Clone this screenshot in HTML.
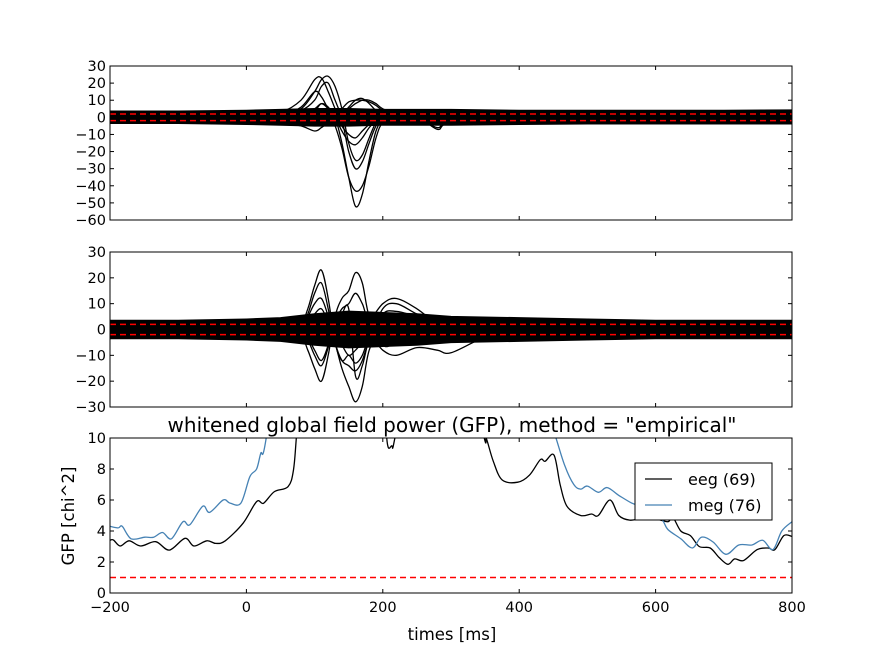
<!DOCTYPE html>
<html><head><meta charset="utf-8">
<style>
body{margin:0;background:#fff;}
svg{display:block;font-family:"DejaVu Sans","Liberation Sans",sans-serif;}
</style></head>
<body>
<svg id="chart" width="880" height="660" viewBox="0 0 880 660">
<rect width="880" height="660" fill="#fff"/>
</svg>
<script>
// ---------- data ----------
const xTicks = [-200, 0, 200, 400, 600, 800];
const topTicks = [30, 20, 10, 0, -10, -20, -30, -40, -50, -60];
const midTicks = [30, 20, 10, 0, -10, -20, -30];
const gfpTicks = [0, 2, 4, 6, 8, 10];

const bandTimes = [-200, -100, 0, 50, 100, 150, 200, 250, 300, 400, 500, 600, 700, 800];
const topBandUp = [3.5, 3.5, 4, 4.5, 5, 5, 4.5, 4.5, 4.5, 4, 4, 4, 4, 4.2];
const topBandLo = [-3.5, -3.5, -4, -4.5, -5, -5, -4.5, -4.5, -4.5, -4, -3.8, -3.8, -3.8, -3.8];
const midBandUp = [3.5, 3.5, 4, 4.5, 6, 7, 6.5, 6, 5, 4.5, 4, 3.5, 3.5, 3.5];
const midBandLo = [-3.5, -3.5, -4, -4.5, -6, -7, -6.5, -6, -5, -4.5, -4, -3.5, -3.5, -3.5];

const topTimes = [-200, -100, 0, 50, 80, 100, 110, 120, 130, 140, 150, 160, 170, 180, 190, 200, 220, 250, 280, 300, 400, 800];
const topCh1 = [0, 0, 0, 0, 1, 3, 5, 3, 0, -15, -35, -52, -45, -25, -8, -2, 0, 0, 0, 0, 0, 0];
const topCh2 = [0, 0, 0, 0, 0, 1, 2, 1, -5, -18, -35, -43, -40, -28, -12, -3, 0, 0, 0, 0, 0, 0];
const topCh3 = [0, 0, 1, 2, 5, 15, 22, 24, 18, 5, -15, -25, -22, -12, -3, 0, 0, 0, 0, 0, 0, 0];
const topCh4 = [0, 0, 1, 3, 10, 22, 23, 15, 5, -5, -10, -12, -8, -4, -1, 0, 0, 0, 0, 0, 0, 0];
const topCh5 = [0, -1, -2, -3, -5, -8, -6, -3, 0, 2, 5, 8, 10, 10, 8, 5, 2, 1, -7, -3, 0, 0];
const topCh6 = [0, 0, 0, 1, 2, 5, 8, 5, 0, 5, 9, 10, 10, 9, 7, 4, 1, 2, 0, 0, 0, 0];
const topCh7 = [0, 0, 0, 0, 1, 4, 8, 6, 0, -8, -14, -16, -12, -6, -2, 0, 0, 0, -6, -2, 0, 0];
const topCh8 = [0, 0, 0, 1, 6, 15, 12, 5, 0, -2, -20, -30, -26, -15, -5, -1, 0, 0, 0, 0, 0, 0];
const topCh9 = [0, 0, 1, 2, 4, 10, 18, 20, 10, 2, 6, 10, 11, 8, 4, 2, 0, 4, 2, 1, 0, 0];

const midTimes = [-200, -100, 0, 50, 80, 90, 100, 110, 120, 130, 140, 150, 160, 170, 180, 200, 220, 250, 280, 300, 350, 400, 800];
const midChA = [0, 0, 0, 1, 3, 8, 17, 23, 12, -5, -12, -10, -13, -10, -3, 5, 4, 2, 1, 0, 0, 0, 0];
const midChB = [0, 0, 0, -1, -3, -8, -15, -20, -10, 5, 12, 15, 22, 18, 5, -6, -5, -2, 0, 0, 0, 0, 0];
const midChC = [0, 0, 0, 1, 2, 5, 10, 12, 5, -5, -15, -22, -28, -22, -8, 3, 5, 3, 1, 0, 0, 0, 0];
const midChD = [0, 0, 0, 0, 2, 6, 14, 18, 8, -5, -12, -14, -16, -12, -4, 8, 10, 6, 3, 1, 0, 0, 0];
const midChE = [0, 0, 0, 0, -1, -3, -8, -12, -6, 3, 8, 10, 14, 10, 4, 10, 12, 8, 2, 0, 0, 0, 0];
const midChF = [0, 0, 0, 0, 1, 3, 6, 8, 3, -2, -6, -10, -8, -5, -2, -8, -10, -7, -8, -9, -3, 0, 0];
const midChG = [0, 0, 0, 0, -1, -4, -10, -14, -7, 2, 6, 8, -18, -14, -4, 6, 7, 5, 3, 1, 0, 0, 0];

const eegTimes = [-200, -195, -185, -172, -155, -133, -113, -90, -77, -58, -45, -31, -5, 15, 25, 41, 61, 69, 74, 90, 120, 160, 200, 205, 213, 220, 260, 300, 346, 352, 362, 375, 398, 415, 431, 438, 451, 460, 470, 490, 506, 516, 533, 546, 562, 578, 598, 618, 625, 637, 651, 664, 680, 693, 706, 716, 729, 749, 765, 775, 788, 800];
const eegGfp = [3.4, 3.42, 3.03, 3.37, 3.03, 3.31, 2.77, 3.53, 3.03, 3.37, 3.2, 3.37, 4.5, 5.9, 5.79, 6.54, 6.86, 7.94, 10.5, 20, 30, 35, 20, 10.5, 9.5, 10.5, 20, 20, 10.5, 9.95, 8.5, 7.3, 7.15, 7.6, 8.6, 8.5, 8.9, 7.0, 5.6, 5.0, 5.1, 5.0, 6.0, 5.0, 4.7, 4.8, 4.8, 4.6, 4.9, 4.0, 3.7, 3.0, 2.9, 2.3, 1.85, 2.2, 2.1, 2.8, 2.9, 2.8, 3.7, 3.65];
const megTimes = [-200, -188, -182, -169, -149, -136, -123, -110, -93, -83, -64, -54, -34, -24, -8, 5, 15, 21, 29, 60, 150, 300, 440, 454, 467, 480, 490, 500, 516, 529, 546, 565, 578, 595, 610, 618, 637, 654, 667, 684, 703, 722, 741, 757, 772, 785, 800];
const megGfp = [4.3, 4.2, 4.3, 3.5, 3.6, 3.6, 3.9, 3.5, 4.6, 4.4, 5.6, 5.2, 6.0, 5.8, 5.8, 7.5, 8.0, 9.0, 10, 20, 30, 25, 12, 10, 8.2, 7.0, 6.7, 6.9, 6.5, 6.8, 6.3, 5.8, 5.6, 5.2, 4.7, 4.1, 3.5, 2.9, 3.6, 3.3, 2.5, 3.1, 3.1, 3.4, 2.8, 4.0, 4.6];

// ---------- drawing ----------
const NS = "http://www.w3.org/2000/svg";
const svg = document.getElementById('chart');
const X0 = 110, X1 = 792;
const xs = t => X0 + (t + 200) / 1000 * (X1 - X0);
function mk(tag, attrs, parent) {
  const e = document.createElementNS(NS, tag);
  for (const k in attrs) e.setAttribute(k, attrs[k]);
  (parent || svg).appendChild(e);
  return e;
}
function fmt(v) { return v < 0 ? '\u2212' + (-v) : '' + v; }
function panel(name, y0, y1, vmax, vmin, ticks, showX) {
  const ys = v => y0 + (vmax - v) / (vmax - vmin) * (y1 - y0);
  const g = mk('g', {});
  
  
  const cid = name + '-clip';
  const cp = mk('clipPath', { id: cid }, g);
  mk('rect', { x: X0, y: y0, width: X1 - X0, height: y1 - y0 }, cp);
  const plot = mk('g', { 'clip-path': 'url(#' + cid + ')' }, g);
  
  
  const axes = mk('g', {}, g);
  
  
  mk('rect', { x: X0, y: y0, width: X1 - X0, height: y1 - y0, fill: 'none', stroke: '#000', 'stroke-width': 1 }, axes);
  ticks.forEach(v => {
    const y = ys(v);
    mk('line', { x1: X0, x2: X0 + 4, y1: y, y2: y, stroke: '#000' }, axes);
    mk('line', { x1: X1, x2: X1 - 4, y1: y, y2: y, stroke: '#000' }, axes);
    const t = mk('text', { x: X0 - 4, y: y + 5, 'text-anchor': 'end', 'font-size': 14.5 }, axes);
    
    
    t.textContent = fmt(v);
  });
  xTicks.forEach(v => {
    const x = xs(v);
    mk('line', { x1: x, x2: x, y1: y1, y2: y1 - 4, stroke: '#000' }, axes);
    mk('line', { x1: x, x2: x, y1: y0, y2: y0 + 4, stroke: '#000' }, axes);
    if (showX) {
      const t = mk('text', { x: x, y: y1 + 19, 'text-anchor': 'middle', 'font-size': 14.5 }, axes);
      
      
      t.textContent = fmt(v);
    }
  });
  return { ys, plot };
}
function pathFrom(times, vals, ys) {
  return times.map((t, i) => (i ? 'L' : 'M') + xs(t).toFixed(1) + ',' + ys(vals[i]).toFixed(1)).join('');
}
function smoothPath(times, vals, ys) {
  const p = times.map((t, i) => [xs(t), ys(vals[i])]);
  let d = 'M' + p[0][0].toFixed(1) + ',' + p[0][1].toFixed(1);
  for (let i = 0; i < p.length - 1; i++) {
    const a = p[i - 1] || p[i], b = p[i], c = p[i + 1], e = p[i + 2] || c;
    const c1 = [b[0] + (c[0] - a[0]) / 6, b[1] + (c[1] - a[1]) / 6];
    const c2 = [c[0] - (e[0] - b[0]) / 6, c[1] - (e[1] - b[1]) / 6];
    d += 'C' + c1[0].toFixed(1) + ',' + c1[1].toFixed(1) + ' ' + c2[0].toFixed(1) + ',' + c2[1].toFixed(1) + ' ' + c[0].toFixed(1) + ',' + c[1].toFixed(1);
  }
  return d;
}
function band(p, up, lo, name) {
  const d = pathFrom(bandTimes, up, p.ys) + bandTimes.slice().reverse().map((t, i) => 'L' + xs(t).toFixed(1) + ',' + p.ys(lo[lo.length - 1 - i]).toFixed(1)).join('') + 'Z';
  const e = mk('path', { d: d, fill: '#000', stroke: '#000', 'stroke-width': 1.5, 'stroke-linejoin': 'round' }, p.plot);
  
  
}
function line(p, times, vals, color, name, w, smooth) {
  const d = smooth ? smoothPath(times, vals, p.ys) : pathFrom(times, vals, p.ys);
  const e = mk('path', { d: d, fill: 'none', stroke: color, 'stroke-width': w || 1.3, 'stroke-linejoin': 'round' }, p.plot);
  
  
}
function hline(p, v, name) {
  const y = p.ys(v);
  const e = mk('line', { x1: X0, x2: X1, y1: y, y2: y, stroke: '#f00', 'stroke-width': 1.5, 'stroke-dasharray': '6,4' }, p.plot);
  
  
}

const pTop = panel('eeg-panel', 66, 220, 30, -60, topTicks, false);
band(pTop, topBandUp, topBandLo, 'eeg-noise-band');
[topCh1, topCh2, topCh3, topCh4, topCh5, topCh6, topCh7, topCh8, topCh9].forEach((c, i) => line(pTop, topTimes, c, '#000', 'eeg-channel-' + (i + 1), 1.3, true));
hline(pTop, 1.96, 'eeg-upper-threshold');
hline(pTop, -1.96, 'eeg-lower-threshold');

const pMid = panel('meg-panel', 252, 407, 30, -30, midTicks, false);
band(pMid, midBandUp, midBandLo, 'meg-noise-band');
[midChA, midChB, midChC, midChD, midChE, midChF, midChG].forEach((c, i) => line(pMid, midTimes, c, '#000', 'meg-channel-' + (i + 1), 1.3, true));
hline(pMid, 1.96, 'meg-upper-threshold');
hline(pMid, -1.96, 'meg-lower-threshold');

const pG = panel('gfp-panel', 438, 593, 10, 0, gfpTicks, true);
line(pG, eegTimes, eegGfp, '#000', 'eeg-gfp-line', 1.3, true);
line(pG, megTimes, megGfp, '#4682b4', 'meg-gfp-line', 1.3, true);
hline(pG, 1, 'gfp-reference-line');

function txt(x, y, s, size, name, extra) {
  const t = mk('text', Object.assign({ x: x, y: y, 'font-size': size, 'text-anchor': 'middle' }, extra || {}));
  
  
  t.textContent = s;
  return t;
}
txt(452, 432, 'whitened global field power (GFP), method = "empirical"', 20, 'gfp-title');
txt(452, 640, 'times [ms]', 16.5, 'x-axis-title');
txt(74, 516, 'GFP [chi^2]', 16.5, 'y-axis-title', { transform: 'rotate(-90 74 516)' });

const lg = mk('g', {});


mk('rect', { x: 635, y: 463, width: 137, height: 57, fill: '#fff', stroke: '#000', 'stroke-width': 1 }, lg);
const le1 = mk('line', { x1: 645, x2: 672, y1: 479, y2: 479, stroke: '#000', 'stroke-width': 1.3 }, lg);


const lt1 = mk('text', { x: 688, y: 485, 'font-size': 16 }, lg);


lt1.textContent = 'eeg (69)';
const le2 = mk('line', { x1: 645, x2: 672, y1: 505, y2: 505, stroke: '#4682b4', 'stroke-width': 1.3 }, lg);


const lt2 = mk('text', { x: 688, y: 511, 'font-size': 16 }, lg);


lt2.textContent = 'meg (76)';
</script>
</body></html>
